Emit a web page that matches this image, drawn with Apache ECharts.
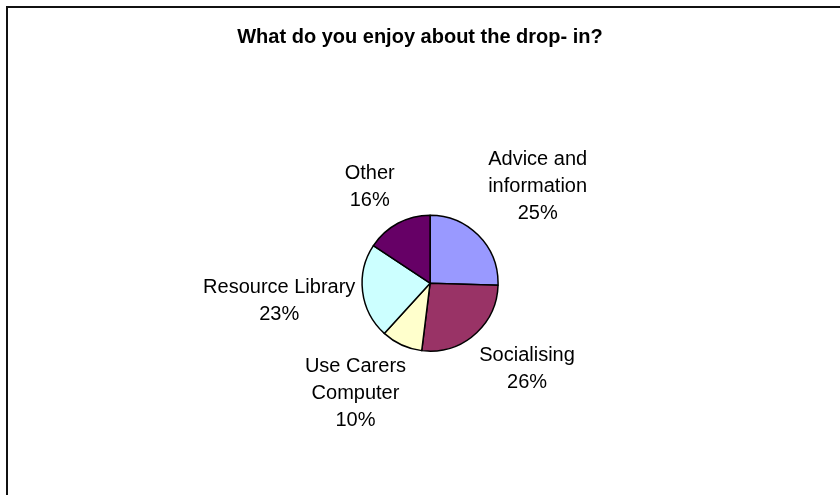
<!DOCTYPE html>
<html>
<head>
<meta charset="utf-8">
<script src="https://cdn.jsdelivr.net/npm/echarts@6/dist/echarts.min.js"></script>
<style>
html,body{margin:0;padding:0;background:#fff;}
#main{width:840px;height:495px;}
</style>
</head>
<body>
<div id="main"></div>
<script>
const titleText = 'What do you enjoy about the drop- in?';
const categories = ['Advice and information', 'Socialising', 'Use Carers Computer', 'Resource Library', 'Other'];
const labelNames = ['Advice and\ninformation', 'Socialising', 'Use Carers\nComputer', 'Resource Library', 'Other'];
const values = [26, 27, 10, 23, 16];
const colors = ['#9999FF', '#993366', '#FFFFCC', '#CCFFFF', '#660066'];

const chart = echarts.init(document.getElementById('main'), null, {renderer: 'canvas'});
const CX = 0.512, CY = 0.572, R = 68, GAP = 24;
// fine label placement tweaks (pixels), mimicking the original's label layout
const labelNudge = [[6, -4], [6, -5], [-15, -10], [16, 3], [-5, 9]];
const total = values.reduce((a, b) => a + b, 0);
const mids = [];
let acc = 0;
values.forEach(v => { mids.push((acc + v / 2) / total * 2 * Math.PI); acc += v; });

chart.setOption({
  backgroundColor: '#ffffff',
  animation: false,
  title: {
    text: titleText,
    left: 'center',
    top: 22,
    textStyle: {fontFamily: 'Liberation Sans, Arial, sans-serif', fontSize: 20, fontWeight: 'bold', color: '#000'}
  },
  graphic: [{
    type: 'rect',
    shape: {x: 7, y: 7, width: 900, height: 600},
    style: {fill: 'none', stroke: '#111', lineWidth: 2}
  }],
  series: [{
    type: 'pie',
    center: [(CX * 100) + '%', (CY * 100) + '%'],
    radius: R,
    startAngle: 90,
    clockwise: true,
    data: categories.map((c, i) => ({name: c, value: values[i], itemStyle: {color: colors[i]}})),
    itemStyle: {borderColor: '#000', borderWidth: 1.5},
    label: {
      show: true,
      position: 'outside',
      formatter: p => labelNames[p.dataIndex] + '\n' + Math.round(values[p.dataIndex] / total * 100) + '%',
      fontFamily: 'Liberation Sans, Arial, sans-serif',
      fontSize: 20,
      lineHeight: 27,
      color: '#000',
      align: 'center'
    },
    labelLine: {show: false},
    emphasis: {disabled: true},
    labelLayout: function (params) {
      const i = params.dataIndex;
      const a = mids[i];
      const cx = chart.getWidth() * CX, cy = chart.getHeight() * CY;
      const w = params.labelRect.width, h = params.labelRect.height;
      const s = Math.sin(a), c = Math.cos(a);
      const ax = cx + (R + GAP) * s, ay = cy - (R + GAP) * c;
      return {
        x: ax + w / 2 * s + labelNudge[i][0],
        y: ay - h / 2 * c + labelNudge[i][1],
        align: 'center',
        verticalAlign: 'middle'
      };
    }
  }]
});
</script>
</body>
</html>
